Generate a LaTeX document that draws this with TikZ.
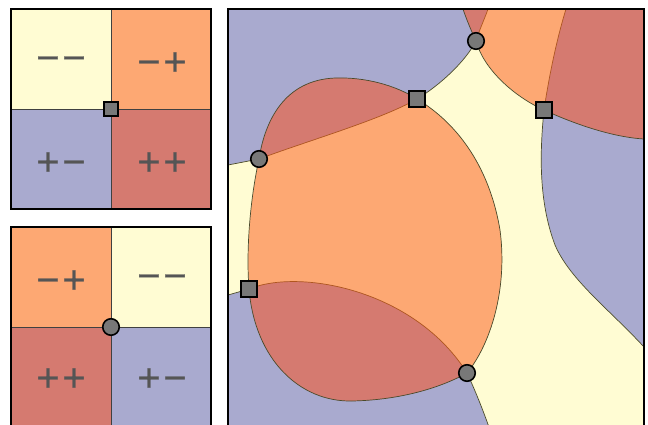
\documentclass[tikz,border=0pt]{standalone}
\usepackage{fontspec}
\newfontfamily\signfont[FakeBold=1.3]{DejaVu Sans}
\definecolor{cy}{HTML}{FFFCD3}
\definecolor{co}{HTML}{FDA873}
\definecolor{cr}{HTML}{D57A70}
\definecolor{cb}{HTML}{A9AACF}
\definecolor{ctext}{HTML}{555555}
\definecolor{cline}{HTML}{4A4A2A}
\definecolor{cline2}{HTML}{B0561E}
\definecolor{cmark}{HTML}{787878}
\begin{document}
\begin{tikzpicture}[x=1pt,y=-1pt,
  sqmark/.style={rectangle,draw=black,line width=1.8pt,fill=cmark,minimum size=16pt,inner sep=0pt},
  circmark/.style={circle,draw=black,line width=1.6pt,fill=cmark,minimum size=16.5pt,inner sep=0pt},
  sign/.style={text=ctext,font=\signfont\fontsize{31}{31}\selectfont,inner sep=0pt},
  bd/.style={draw=cline,line width=0.7pt},
  bdo/.style={draw=cline2,line width=0.7pt},
  frame/.style={draw=black,line width=1.8pt},
  gridline/.style={draw=black!75,line width=0.8pt}]
\useasboundingbox (0,0) rectangle (648,424);
% ---------- top-left panel ----------
\fill[cy] (11,9) rectangle (111,109);
\fill[co] (111,9) rectangle (211,109);
\fill[cb] (11,109) rectangle (111,209);
\fill[cr] (111,109) rectangle (211,209);
\draw[gridline] (111,9) -- (111,209) (11,109) -- (211,109);
\draw[frame] (11,9) rectangle (211,209);
\node[sign] (a1) at (61,62) {−−};
\node[sign] (a2) at (162,62) {−+};
\node[sign] (a3) at (61,162) {+−};
\node[sign] (a4) at (162,162) {++};
\node[sqmark,minimum size=14.5pt] (s0) at (111,109) {};
% ---------- bottom-left panel ----------
\fill[co] (11,227) rectangle (111,327);
\fill[cy] (111,227) rectangle (211,327);
\fill[cr] (11,327) rectangle (111,430);
\fill[cb] (111,327) rectangle (211,430);
\draw[gridline] (111,227) -- (111,430) (11,327) -- (211,327);
\draw[frame] (11,430) -- (11,227) -- (211,227) -- (211,430);
\node[sign] (b1) at (61,280) {−+};
\node[sign] (b2) at (162,280) {−−};
\node[sign] (b3) at (61,378) {++};
\node[sign] (b4) at (162,378) {+−};
\node[circmark] (c0) at (111,327) {};
% ---------- right panel ----------
\coordinate (T) at (476,41);
\coordinate (M) at (417,99);
\coordinate (R) at (544,110);
\coordinate (L) at (259,159);
\coordinate (B) at (249,289);
\coordinate (C) at (467,373);
\coordinate (e1) at (463,9);
\coordinate (e2) at (488,9);
\coordinate (e3) at (566,9);
\coordinate (e4) at (644,139);
\coordinate (e5) at (644,347);
\coordinate (e6) at (228,165);
\coordinate (e7) at (228,295);
\coordinate (e8) at (490,430);
\begin{scope}
\clip (228,9) rectangle (644,430);
\fill[cb] (228,9) rectangle (644,430);
% red wedge at top
\fill[cr] (e1) .. controls (466,18) and (470,28) .. (T) .. controls (480,28) and (485,18) .. (e2) -- cycle;
% orange top right
\fill[co] (e2) -- (e3) .. controls (558,35) and (550,70) .. (R) .. controls (515,97) and (484,70) .. (T) .. controls (480,28) and (485,18) .. (e2) -- cycle;
% red top right
\fill[cr] (e3) -- (644,9) -- (e4) .. controls (610,137) and (570,122) .. (R) .. controls (550,70) and (558,35) .. (e3) -- cycle;
% yellow central
\fill[cy] (T) .. controls (465,62) and (440,85) .. (M) .. controls (460,125) and (490,170) .. (500,230) .. controls (508,290) and (490,345) .. (C) .. controls (475,390) and (483,410) .. (e8) -- (644,430) -- (e5) .. controls (610,310) and (570,280) .. (555,245) .. controls (538,200) and (540,150) .. (R) .. controls (515,97) and (484,70) .. (T) -- cycle;
% orange big
\fill[co] (L) .. controls (310,140) and (380,120) .. (M) .. controls (460,125) and (490,170) .. (500,230) .. controls (508,290) and (490,345) .. (C) .. controls (415,290) and (300,268) .. (B) .. controls (246,250) and (250,200) .. (L) -- cycle;
% red upper lens
\fill[cr] (M) .. controls (395,85) and (365,77) .. (335,78) .. controls (285,80) and (265,120) .. (L) .. controls (310,140) and (380,120) .. (M) -- cycle;
% yellow strip
\fill[cy] (e6) -- (L) .. controls (250,200) and (246,250) .. (B) -- (e7) -- cycle;
% red lower lens
\fill[cr] (B) .. controls (300,268) and (415,290) .. (C) .. controls (440,388) and (400,400) .. (352,401) .. controls (300,402) and (255,360) .. (B) -- cycle;
% boundaries
\draw[bd] (T) .. controls (470,28) and (466,18) .. (e1);
\draw[bdo] (T) .. controls (480,28) and (485,18) .. (e2);
\draw[bd] (T) .. controls (465,62) and (440,85) .. (M);
\draw[bd] (T) .. controls (484,70) and (515,97) .. (R);
\draw[bdo] (R) .. controls (550,70) and (558,35) .. (e3);
\draw[bd] (R) .. controls (570,122) and (610,137) .. (e4);
\draw[bd] (R) .. controls (540,150) and (538,200) .. (555,245) .. controls (570,280) and (610,310) .. (e5);
\draw[bd] (M) .. controls (395,85) and (365,77) .. (335,78) .. controls (285,80) and (265,120) .. (L);
\draw[bdo] (M) .. controls (380,120) and (310,140) .. (L);
\draw[bd] (M) .. controls (460,125) and (490,170) .. (500,230) .. controls (508,290) and (490,345) .. (C);
\draw[bd] (L) -- (e6);
\draw[bd] (L) .. controls (250,200) and (246,250) .. (B);
\draw[bd] (B) -- (e7);
\draw[bdo] (B) .. controls (300,268) and (415,290) .. (C);
\draw[bd] (B) .. controls (255,360) and (300,402) .. (352,401) .. controls (400,400) and (440,388) .. (C);
\draw[bd] (C) .. controls (475,390) and (483,410) .. (e8);
\end{scope}
\draw[frame] (228,430) -- (228,9) -- (644,9) -- (644,430);
\node[circmark] (Tm) at (T) {};
\node[sqmark] (Mm) at (M) {};
\node[sqmark] (Rm) at (R) {};
\node[circmark] (Lm) at (L) {};
\node[sqmark] (Bm) at (B) {};
\node[circmark] (Cm) at (C) {};
\end{tikzpicture}
\end{document}
